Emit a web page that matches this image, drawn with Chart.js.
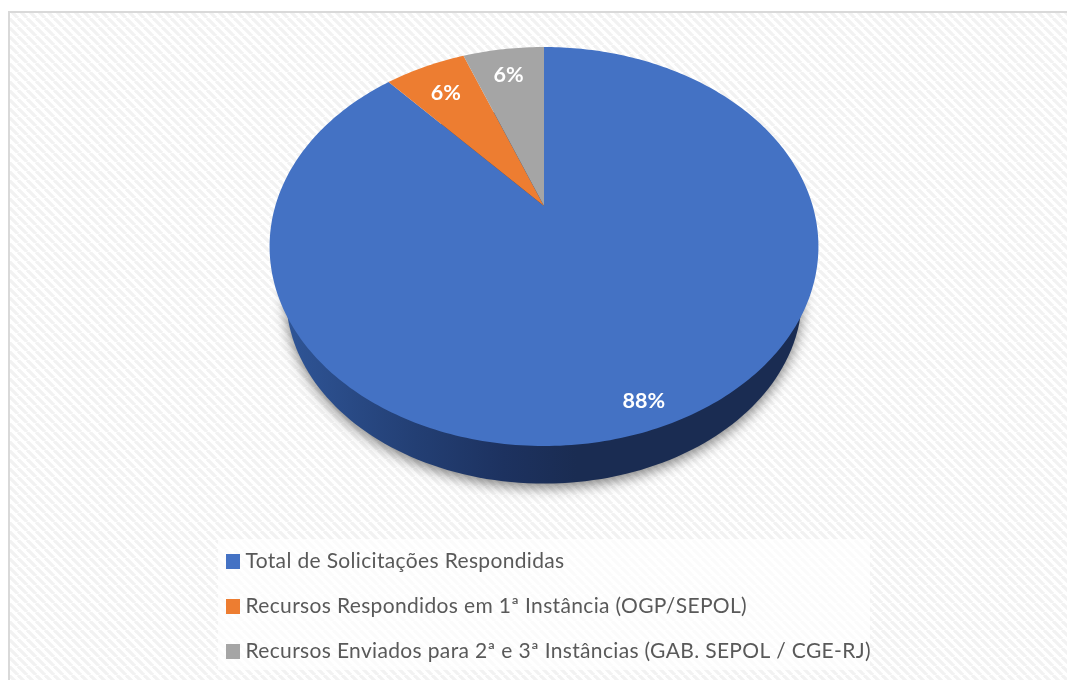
<!DOCTYPE html>
<html>
<head>
<meta charset="utf-8">
<style>
  html, body { margin: 0; padding: 0; background: #fff; }
  canvas { display: block; }
</style>
<script src="https://cdn.jsdelivr.net/npm/chart.js@4/dist/chart.umd.js"></script>
</head>
<body>
<canvas id="chart" width="1067" height="680"></canvas>
<script>
const categories = [
  "Total de Solicitações Respondidas",
  "Recursos Respondidos em 1ª Instância (OGP/SEPOL)",
  "Recursos Enviados para 2ª e 3ª Instâncias (GAB. SEPOL / CGE-RJ)",
];
const percentages = [88.4, 5.8, 5.8];
const sliceColors = ["#4472c4", "#ed7d31", "#a5a5a5"];

// perspective of the tilted disc, the circle from Chart.js goes through this
const tilt = { sx: 1.69, sy: 1.203, p: -0.203, sideScale: 0.94, sideDrop: 52 };

function project(el, angle, frac = 1) {
  const u = Math.cos(angle) * frac;
  const v = Math.sin(angle) * frac;
  const d = 1 + tilt.p * v;
  return {
    x: el.x + (tilt.sx * el.outerRadius * u) / d,
    y: el.y + (tilt.sy * el.outerRadius * v) / d,
  };
}

// pie has no 3D mode, so the arc element draws its own projected outline
Chart.ArcElement.prototype.draw = function (ctx) {
  const { startAngle, endAngle } = this;
  const steps = Math.max(Math.ceil((endAngle - startAngle) * 60), 2);
  ctx.beginPath();
  const apex = project(this, 0, 0);
  ctx.moveTo(apex.x, apex.y);
  for (let i = 0; i <= steps; i++) {
    const p = project(this, startAngle + ((endAngle - startAngle) * i) / steps);
    ctx.lineTo(p.x, p.y);
  }
  ctx.closePath();
  ctx.fillStyle = this.options.backgroundColor;
  ctx.fill();
};

function hatchPattern(ctx) {
  const size = 9;
  const tile = document.createElement("canvas");
  tile.width = size;
  tile.height = size;
  const t = tile.getContext("2d");
  t.fillStyle = "#ffffff";
  t.fillRect(0, 0, size, size);
  t.strokeStyle = "#f2f2f2";
  t.lineWidth = 3.2;
  for (let i = -size; i <= size * 2; i += size) {
    t.beginPath();
    t.moveTo(i, 0);
    t.lineTo(i + size, size);
    t.stroke();
  }
  return ctx.createPattern(tile, "repeat");
}

const backdrop = {
  id: "backdrop",
  afterLayout(chart) {
    // legend is a plain column under the pie
    const lg = chart.legend;
    lg.left = 207;
    lg.right = 900;
    lg.top = 527;
    lg.bottom = 700;
  },
  beforeDraw(chart) {
    const ctx = chart.ctx;
    ctx.save();
    ctx.fillStyle = hatchPattern(ctx);
    ctx.fillRect(9, 12, chart.width - 9, chart.height - 12);
    ctx.fillStyle = "#d9d9d9";
    ctx.fillRect(8, 11, chart.width - 8, 2);
    ctx.fillRect(8, 11, 2, chart.height - 11);
    ctx.fillStyle = "rgba(255,255,255,0.7)";
    ctx.fillRect(218, 539, 652, 131);
    ctx.restore();
    ctx.letterSpacing = "0.34px"; // legend text runs wider than Lato
  },
  beforeDatasetsDraw(chart) {
    chart.ctx.letterSpacing = "0px";
    // extruded wall below the disc
    const el = chart.getDatasetMeta(0).data[0];
    const ctx = chart.ctx;
    const grad = ctx.createLinearGradient(285, 0, 805, 0);
    grad.addColorStop(0, "#2f5597");
    grad.addColorStop(0.25, "#233f74");
    grad.addColorStop(0.42, "#1d3260");
    grad.addColorStop(0.56, "#1a2c52");
    grad.addColorStop(1, "#1a2c52");
    ctx.save();
    ctx.shadowColor = "rgba(0,0,0,0.5)";
    ctx.shadowBlur = 13;
    ctx.shadowOffsetY = 4;
    ctx.fillStyle = grad;
    ctx.beginPath();
    for (let i = 0; i <= 240; i++) {
      const p = project(el, (i / 240) * Math.PI * 2);
      const x = el.x + (p.x - el.x) * tilt.sideScale;
      const y = el.y + tilt.sideDrop + (p.y - el.y) * tilt.sideScale;
      if (i === 0) ctx.moveTo(x, y);
      else ctx.lineTo(x, y);
    }
    ctx.closePath();
    ctx.fill();
    ctx.restore();
  },
  afterDatasetsDraw(chart) {
    const ctx = chart.ctx;
    const o = chart.options.plugins.backdrop;
    ctx.save();
    ctx.font = "bold 21.5px Lato";
    ctx.fillStyle = "#ffffff";
    ctx.textAlign = "center";
    ctx.textBaseline = "middle";
    chart.getDatasetMeta(0).data.forEach((el, i) => {
      const mid = (el.startAngle + el.endAngle) / 2;
      const p = project(el, mid, o.labelFrac[i]);
      ctx.fillText(Math.round(percentages[i]) + "%", p.x, p.y + o.labelNudge[i]);
    });
    ctx.restore();
  },
};

new Chart(document.getElementById("chart"), {
  type: "pie",
  data: {
    labels: categories,
    datasets: [{ data: percentages, backgroundColor: sliceColors, borderWidth: 0 }],
  },
  plugins: [backdrop],
  options: {
    responsive: false,
    animation: false,
    layout: { padding: { left: 385, right: 364, top: 47, bottom: 315 } },
    plugins: {
      tooltip: { enabled: false },
      backdrop: { labelFrac: [0.87, 0.8, 0.85], labelNudge: [9, 2, 6] },
      legend: {
        position: "chartArea",
        align: "start",
        labels: {
          // small box plus thick stroke: the swatch sits closer to the text than the default gap
          boxWidth: 4,
          boxHeight: 5,
          padding: 24,
          color: "#595959",
          font: { family: "Lato", size: 21 },
          generateLabels(chart) {
            return Chart.overrides.pie.plugins.legend.labels
              .generateLabels(chart)
              .map((item) => ({ ...item, strokeStyle: item.fillStyle, lineWidth: 10 }));
          },
        },
      },
    },
  },
});
</script>
</body>
</html>
